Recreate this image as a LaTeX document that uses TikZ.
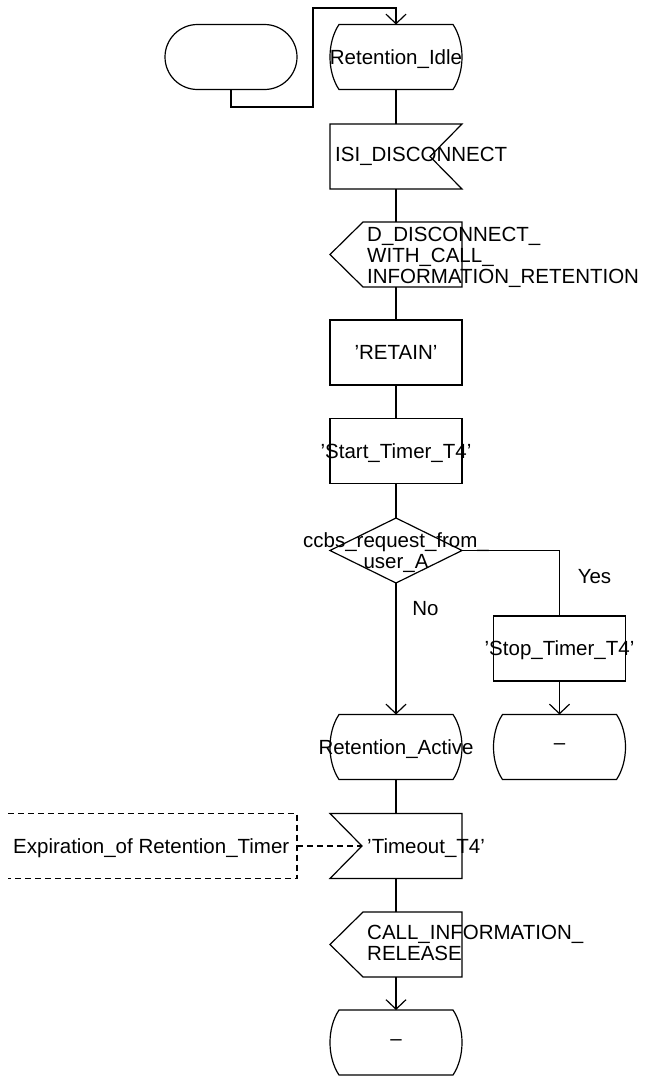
\documentclass[tikz,border=0pt]{standalone}
\usepackage{fontspec}
\setmainfont{Liberation Sans}
\usetikzlibrary{arrows.meta,calc}
\newcommand\sdlstate[1]{%
  \draw[ln] ($(#1.north west)+(9,0)$) -- ($(#1.north east)+(-9,0)$)
    .. controls ($(#1.north east)+(3,18)$) and ($(#1.south east)+(3,-18)$) .. ($(#1.south east)+(-9,0)$)
    -- ($(#1.south west)+(9,0)$)
    .. controls ($(#1.south west)+(-3,-18)$) and ($(#1.north west)+(-3,18)$) .. cycle;}
\newcommand\sdlinput[1]{%
  \draw[ln] (#1.north west) -- (#1.north east) -- ($(#1.east)+(-32,0)$) -- (#1.south east) -- (#1.south west) -- cycle;}
\newcommand\sdlinputl[1]{%
  \draw[ln] (#1.north west) -- (#1.north east) -- (#1.south east) -- (#1.south west) -- ($(#1.west)+(32,0)$) -- cycle;}
\newcommand\sdloutput[1]{%
  \draw[ln] (#1.west) -- ($(#1.north west)+(33,0)$) -- (#1.north east) -- (#1.south east) -- ($(#1.south west)+(33,0)$) -- cycle;}
\newcommand\sdldecision[1]{%
  \draw[ln] (#1.north) -- (#1.east) -- (#1.south) -- (#1.west) -- cycle;}
\begin{document}
\begin{tikzpicture}[x=1pt,y=-1pt,
  ln/.style={line width=1.2pt, line join=miter},
  symb/.style={minimum width=132pt, minimum height=65pt, inner sep=0pt, outer sep=0pt},
  taskbox/.style={symb, draw, ln},
  txt/.style={inner sep=0pt, font=\fontsize{20.5}{21}\selectfont},
  lbl/.style={txt, text height=14.7pt, text depth=0pt},
  arr/.style={ln, -{Straight Barb[length=9.5pt,width=20pt]}},
  dsh/.style={ln, dash pattern=on 6pt off 4pt},
]
\useasboundingbox (0,0) rectangle (651,1079);
% symbols
\node[symb, draw, ln, rounded corners=32.5pt] (startsym) at (231,57) {};
\node[symb] (idle) at (396,57) {};
\node[symb] (isi) at (396,156.5) {};
\node[symb] (ddisc) at (396,254.5) {};
\node[taskbox] (retain) at (396,352.5) {};
\node[taskbox] (start) at (396,451) {};
\node[symb] (dec) at (396,550.5) {};
\node[taskbox] (stop) at (559.5,648.5) {};
\node[symb] (active) at (396,747) {};
\node[symb] (dash) at (559.5,747) {};
\node[symb] (tmo) at (396,846) {};
\node[symb] (rel) at (396,944.5) {};
\node[symb] (final) at (396,1042.5) {};
\node[symb, minimum width=289pt] (exp) at (152.5,846) {};
\sdlstate{idle}
\sdlinput{isi}
\sdloutput{ddisc}
\sdldecision{dec}
\sdlstate{active}
\sdlstate{dash}
\sdlinputl{tmo}
\sdloutput{rel}
\sdlstate{final}
\draw[dsh] (exp.north west) -- (exp.north east) -- (exp.south east) -- (exp.south west);
% labels
\node[lbl] (tidle) at (idle) {Retention\_Idle};
\node[lbl, anchor=west] (tisi) at (335,154) {ISI\_DISCONNECT};
\node[txt, anchor=north west, align=left] (tddisc) at (367,227) {D\_DISCONNECT\_\\WITH\_CALL\_\\INFORMATION\_RETENTION};
\node[lbl] (tretain) at (retain) {'RETAIN'};
\node[lbl] (tstart) at (start) {'Start\_Timer\_T4'};
\node[txt, anchor=north, align=center] (tdec) at (396,532) {ccbs\_request\_from\_\\user\_A};
\node[lbl] (tyes) at (594.5,576) {Yes};
\node[lbl] (tno) at (425.5,608) {No};
\node[lbl] (tstop) at (stop) {'Stop\_Timer\_T4'};
\node[lbl] (tactive) at (active) {Retention\_Active};
\node[txt] (tdash) at (dash) {–};
\node[lbl, anchor=west] (ttmo) at (367,846) {'Timeout\_T4'};
\node[lbl, anchor=west] (texp) at (13,846) {Expiration\_of Retention\_Timer};
\node[txt, anchor=north west, align=left] (trel) at (367,925) {CALL\_INFORMATION\_\\RELEASE};
\node[txt] (tfinal) at (final) {–};
% connectors
\coordinate (j1) at (313,107);
\coordinate (j2) at (313,8);
\draw[arr] (startsym.south) |- (j1) -- (j2) -| (idle.north);
\draw[ln] (idle.south) -- (isi.north);
\draw[ln] (isi.south) -- (ddisc.north);
\draw[ln] (ddisc.south) -- (retain.north);
\draw[ln] (retain.south) -- (start.north);
\draw[ln] (start.south) -- (dec.north);
\draw[arr] (dec.south) -- (active.north);
\draw[ln] (dec.east) -| (stop.north);
\draw[arr] (stop.south) -- (dash.north);
\draw[ln] (active.south) -- (tmo.north);
\draw[ln] (tmo.south) -- (rel.north);
\draw[arr] (rel.south) -- (final.north);
\draw[dsh] (exp.east) -- ($(tmo.west)+(32,0)$);
\end{tikzpicture}
\end{document}
